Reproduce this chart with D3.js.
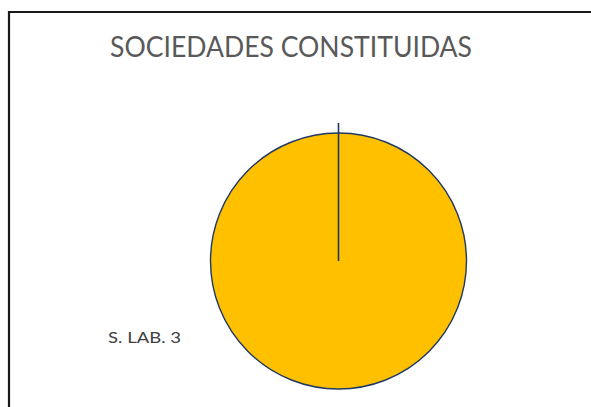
<!DOCTYPE html>
<html><head><meta charset="utf-8">
<script src="https://cdn.jsdelivr.net/npm/d3@7"></script>
<style>html,body{margin:0;padding:0;background:#fff;overflow:hidden}</style>
</head><body>
<script>
const title = "SOCIEDADES CONSTITUIDAS";
const categories = ["S. LAB."];
const values = [3];
const colors = ["#FFC000"];

const W = 591, H = 407;
const svg = d3.select("body").append("svg").attr("width", W).attr("height", H);

// chart frame (right/bottom edges fall outside the view)
svg.append("path")
  .attr("d", `M9,${H + 10} L9,12 L${W + 10},12`)
  .attr("fill", "none").attr("stroke", "#1a1a1a").attr("stroke-width", 2.2);

svg.append("text")
  .attr("x", 110).attr("y", 57)
  .attr("font-family", "Lato, 'Open Sans', sans-serif")
  .attr("font-size", 28)
  .attr("fill", "#595959")
  .attr("textLength", 362).attr("lengthAdjust", "spacingAndGlyphs")
  .text(title);

const cx = 338.5, cy = 261, r = 128;
const pie = d3.pie().sort(null).value(d => d)(values);
const arc = d3.arc().innerRadius(0).outerRadius(r);
const g = svg.append("g").attr("transform", `translate(${cx},${cy})`);

g.selectAll("path.slice").data(pie).join("path")
  .attr("class", "slice")
  .attr("d", arc)
  .attr("fill", (d, i) => colors[i])
  .attr("stroke", "#1F3864").attr("stroke-width", 1.4);

// slice boundary line (start angle), extended past the rim
g.selectAll("line.edge").data(pie).join("line")
  .attr("class", "edge")
  .attr("x1", 0).attr("y1", 0)
  .attr("x2", d => Math.sin(d.startAngle) * (r + 10))
  .attr("y2", d => -Math.cos(d.startAngle) * (r + 10))
  .attr("stroke", "#1F3864").attr("stroke-width", 1.6);

svg.selectAll("text.lbl").data(pie).join("text")
  .attr("class", "lbl")
  .attr("x", 108).attr("y", 343)
  .attr("font-family", "Lato, 'Open Sans', sans-serif")
  .attr("font-size", 16)
  .attr("fill", "#404040")
  .attr("textLength", 73).attr("lengthAdjust", "spacingAndGlyphs")
  .text((d, i) => `${categories[i]} ${values[i]}`);
</script>
</body></html>
